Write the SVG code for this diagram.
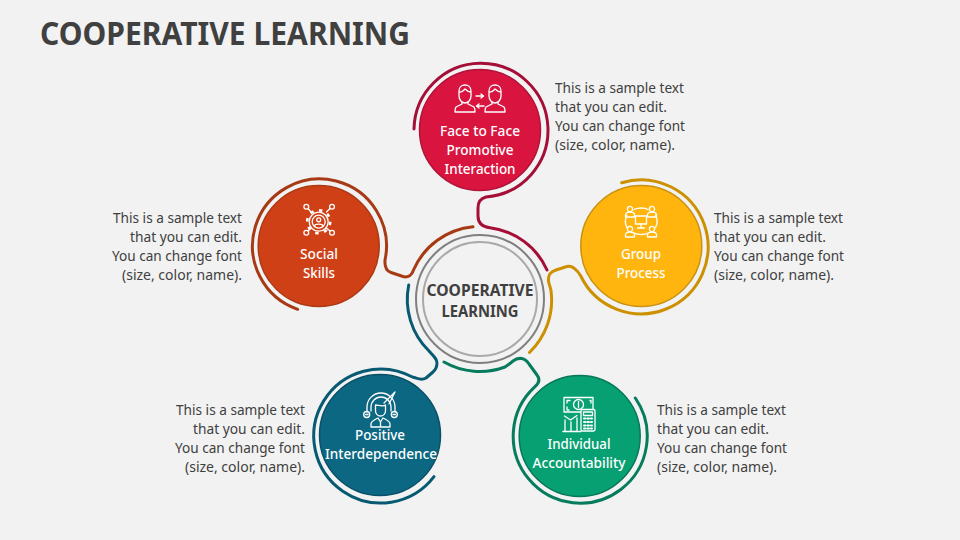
<svg xmlns="http://www.w3.org/2000/svg" width="960" height="540" viewBox="0 0 960 540">
<style>
text{font-family:"Noto Sans","Open Sans","Liberation Sans",sans-serif}
.title{font-size:31.5px;font-weight:700;fill:#404040}
.body{font-size:14px;fill:#404040}
.end{text-anchor:end}
.lab{font-size:14px;font-weight:500;fill:#fff;text-anchor:middle}
.ctr{font-size:16px;font-weight:700;fill:#404040;text-anchor:middle}
.ic{fill:none;stroke:#fff;stroke-width:1.3;stroke-linecap:round;stroke-linejoin:round}
.con{fill:none;stroke-width:3;stroke-linecap:round;stroke-linejoin:round}
.disc{stroke-width:1.5}
</style>
<defs>
<g id="person"><path d="M-6,-2V-7C-6,-11 -3,-13 0,-13C3,-13 6,-11 6,-7V-2C6,2 3,5 0,5C-3,5 -6,2 -6,-2Z M-6,-6C-3,-5 -1,-8 0,-9C2,-7 4,-6 6,-6"/><path d="M-3,4V6L-9,9C-10,10 -10,11 -10,14H10C10,11 10,10 9,9L3,6V4"/></g>
<g id="mini"><circle cx="0" cy="-3" r="2.6"/><path d="M-4.5,5V3C-4.5,1 -3,0 0,0C3,0 4.500,1 4.500,3V5Z"/></g>
</defs>
<rect width="960" height="540" fill="#f2f2f2"/>
<text class="title" x="40" y="45" textLength="370" lengthAdjust="spacingAndGlyphs">COOPERATIVE LEARNING</text>

<g id="connectors">
<path class="con" stroke="#a50e36" d="M414,129A67,67 0 1 1 486,197C480,198.500 478,202 478,208V216C478,224 483,227 490,227.700A72.500,72.500 0 0 1 547,270"/>
<path class="con" stroke="#a63a14" d="M297.700,309.300A67,67 0 1 1 385,260C384.500,267 386,271 391,272.500L403,276.500C408,278 412,275 413.500,270A72.500,72.500 0 0 1 473,226.800"/>
<path class="con" stroke="#cc9000" d="M621.700,182.700A67,67 0 1 1 580.500,275.500C577,270 573,265 567,266.500L556,270C550,272 548,275 548.500,281C549,285 551,288 551,291A72.500,72.500 0 0 1 529.500,352.500"/>
<path class="con" stroke="#085a73" d="M434,476.700A67,67 0 1 1 413,377.300C417,378 421,381 426,378L433,372C438,367 438,361 434,356.500L429,351A72.500,72.500 0 0 1 408.700,285"/>
<path class="con" stroke="#067c5c" d="M635.300,398A67,67 0 1 1 535,386.700C538,384 541,380 537,375L529,364C525,358 519,356.500 513,361C510,363.500 508,365 505,367A72.500,72.500 0 0 1 444,362"/>
</g>

<g id="center">
<circle cx="480" cy="299" r="64" fill="none" stroke="#7f7f7f" stroke-width="2"/>
<circle cx="480" cy="299" r="57" fill="none" stroke="#a9a9a9" stroke-width="2"/>
<text class="ctr" x="480" y="296" textLength="107" lengthAdjust="spacingAndGlyphs">COOPERATIVE</text>
<text class="ctr" x="480" y="317" textLength="77" lengthAdjust="spacingAndGlyphs">LEARNING</text>
</g>

<g id="node-face">
<circle class="disc" cx="480" cy="130" r="60.500" fill="#d9153f" stroke="#b01238"/>
<g class="ic">
<use href="#person" x="465" y="98"/><use href="#person" x="495" y="98"/>
<path d="M476,96H483M481,94L483.500,96L481,98M484,106H477M479,104L476.500,106L479,108"/>
</g>
<text class="lab" x="480" y="136" textLength="80" lengthAdjust="spacingAndGlyphs">Face to Face</text>
<text class="lab" x="480" y="155" textLength="67" lengthAdjust="spacingAndGlyphs">Promotive</text>
<text class="lab" x="480" y="174" textLength="71" lengthAdjust="spacingAndGlyphs">Interaction</text>
<text class="body" x="555" y="93" textLength="129" lengthAdjust="spacingAndGlyphs">This is a sample text</text>
<text class="body" x="555" y="112" textLength="112" lengthAdjust="spacingAndGlyphs">that you can edit.</text>
<text class="body" x="555" y="131" textLength="130" lengthAdjust="spacingAndGlyphs">You can change font</text>
<text class="body" x="555" y="150" textLength="120" lengthAdjust="spacingAndGlyphs">(size, color, name).</text>
</g>

<g id="node-social">
<circle class="disc" cx="318.700" cy="246" r="60.500" fill="#cf4017" stroke="#ab3a15"/>
<g class="ic">
<circle cx="318.700" cy="221.700" r="9.500"/>
<circle cx="318.700" cy="221.700" r="11.500" stroke-width="2.600" stroke-dasharray="3.400 5.630" stroke-linecap="butt"/>
<circle cx="318.700" cy="221.700" r="6.500"/>
<circle cx="318.700" cy="219.800" r="2"/>
<path d="M314.500,226C315,223.500 322.500,223.500 323,226"/>
<circle cx="306.300" cy="206.700" r="2.400"/><circle cx="332" cy="206.700" r="2.400"/><circle cx="306.300" cy="232.700" r="2.400"/><circle cx="332" cy="232.700" r="2.400"/>
<path d="M308,208.500L311,212M330,208.500L326.500,212M308,231L311,228M330,231L326.500,228"/>
</g>
<text class="lab" x="319" y="259" textLength="38" lengthAdjust="spacingAndGlyphs">Social</text>
<text class="lab" x="319" y="278" textLength="32" lengthAdjust="spacingAndGlyphs">Skills</text>
<text class="body end" x="242" y="223" textLength="129" lengthAdjust="spacingAndGlyphs">This is a sample text</text>
<text class="body end" x="242" y="242" textLength="112" lengthAdjust="spacingAndGlyphs">that you can edit.</text>
<text class="body end" x="242" y="261" textLength="130" lengthAdjust="spacingAndGlyphs">You can change font</text>
<text class="body end" x="242" y="280" textLength="120" lengthAdjust="spacingAndGlyphs">(size, color, name).</text>
</g>

<g id="node-group">
<circle class="disc" cx="641.300" cy="246" r="60.500" fill="#ffb50d" stroke="#c99212"/>
<g class="ic">
<path d="M634,209.500C638,207.500 645,207.500 648,209.500M655.500,215C657.500,219 657.500,224 655.500,227.500M648,233C645,235 638,235 634,233M627,227.500C625,224 625,219 627,215"/>
<use href="#mini" x="630" y="212"/><use href="#mini" x="652" y="212"/><use href="#mini" x="630" y="232"/><use href="#mini" x="652" y="232"/>
<rect x="635.500" y="216" width="11" height="8"/><path d="M641,224V227.500M637.500,228H644.500"/>
</g>
<text class="lab" x="641" y="259" textLength="40" lengthAdjust="spacingAndGlyphs">Group</text>
<text class="lab" x="641" y="278" textLength="49" lengthAdjust="spacingAndGlyphs">Process</text>
<text class="body" x="714" y="223" textLength="129" lengthAdjust="spacingAndGlyphs">This is a sample text</text>
<text class="body" x="714" y="242" textLength="112" lengthAdjust="spacingAndGlyphs">that you can edit.</text>
<text class="body" x="714" y="261" textLength="130" lengthAdjust="spacingAndGlyphs">You can change font</text>
<text class="body" x="714" y="280" textLength="120" lengthAdjust="spacingAndGlyphs">(size, color, name).</text>
</g>

<g id="node-positive">
<circle class="disc" cx="380" cy="435" r="60.500" fill="#0c6783" stroke="#0a5068"/>
<g class="ic" stroke-width="1">
<path d="M367,412V407A14,14 0 0 1 395,407V412"/>
<path d="M371,411V407A10,10 0 0 1 391,407V411"/>
<path d="M384,403L395,392L389,404"/>
<circle cx="366.700" cy="414.500" r="3"/><circle cx="394.300" cy="414.500" r="3"/><path d="M365.500,414.500H368M393,414.500H395.500"/>
<path d="M375.500,405V411C375.500,414 378,416 380.500,416C383,416 385.500,414 385.500,411V405C383,407 378,405 375.500,405Z"/>
<path d="M371,427V424C371,421 374,420 378,418L380.500,422L383,418C387,420 390,421 390,424V427ZM380.500,422V427"/>
</g>
<text class="lab" x="380" y="440" textLength="50" lengthAdjust="spacingAndGlyphs">Positive</text>
<text class="lab" x="381" y="459" textLength="112" lengthAdjust="spacingAndGlyphs">Interdependence</text>
<text class="body end" x="305" y="415" textLength="129" lengthAdjust="spacingAndGlyphs">This is a sample text</text>
<text class="body end" x="305" y="434" textLength="112" lengthAdjust="spacingAndGlyphs">that you can edit.</text>
<text class="body end" x="305" y="453" textLength="130" lengthAdjust="spacingAndGlyphs">You can change font</text>
<text class="body end" x="305" y="472" textLength="120" lengthAdjust="spacingAndGlyphs">(size, color, name).</text>
</g>

<g id="node-individual">
<circle class="disc" cx="579.700" cy="436" r="60.500" fill="#07a072" stroke="#07785a"/>
<g class="ic">
<rect x="564" y="397.500" width="29" height="14.500"/>
<circle cx="578.500" cy="404.500" r="5"/><path d="M578.500,401.500V407.500"/>
<path d="M567,403V400.500H570M590,400.500H591V403M567,407V410H569"/>
<path d="M563,431.500H581M565,431V420M571,431V422M577,431V418M564.500,416L570.500,420L577,415.500"/>
<rect x="581" y="409.500" width="14" height="21.500" rx="1.500" fill="#07a072"/>
<rect x="583.500" y="412" width="9" height="3.500"/>
<path d="M584,418.500h1.500M587.500,418.500h1.500M591,418.500h1M584,422h1.500M587.500,422h1.500M591,422h1M584,425.500h1.500M587.500,425.500h1.500M591,425.500h1M584,428.500h1.500M587.500,428.500h1.500M591,428.500h1" stroke-width="2"/>
</g>
<text class="lab" x="579" y="449" textLength="63" lengthAdjust="spacingAndGlyphs">Individual</text>
<text class="lab" x="579" y="468" textLength="93" lengthAdjust="spacingAndGlyphs">Accountability</text>
<text class="body" x="657" y="415" textLength="129" lengthAdjust="spacingAndGlyphs">This is a sample text</text>
<text class="body" x="657" y="434" textLength="112" lengthAdjust="spacingAndGlyphs">that you can edit.</text>
<text class="body" x="657" y="453" textLength="130" lengthAdjust="spacingAndGlyphs">You can change font</text>
<text class="body" x="657" y="472" textLength="120" lengthAdjust="spacingAndGlyphs">(size, color, name).</text>
</g>
</svg>
